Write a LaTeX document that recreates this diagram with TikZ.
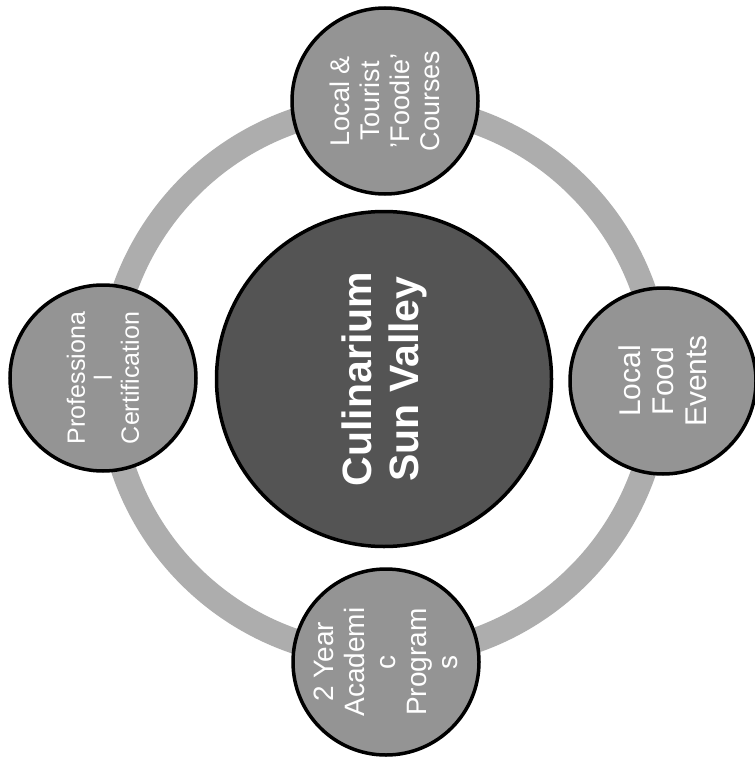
\documentclass[tikz,border=0pt]{standalone}
\usepackage{fontspec}
\setmainfont{Liberation Sans}
\definecolor{ringgray}{gray}{0.68}
\definecolor{satgray}{gray}{0.58}
\definecolor{hubgray}{gray}{0.33}
\begin{document}
\begin{tikzpicture}[x=1pt,y=-1pt,
  sat/.style={circle, draw=black, line width=3.5pt, fill=satgray, inner sep=0pt,
    minimum size=186pt, text=white, align=center, rotate=90},
  hub/.style={circle, draw=black, line width=3.5pt, fill=hubgray, inner sep=0pt,
    minimum size=335pt, text=white, align=center, rotate=90,
    font=\bfseries\fontsize{41}{47}\selectfont},
  ringline/.style={draw=ringgray, line width=25pt}]
\useasboundingbox (0,0) rectangle (754,762);
\fill[white] (0,0) rectangle (754,762);
\coordinate (ringc) at (384,381);
\draw[ringline] (ringc) circle[radius=275pt];
\node[hub] (hubnode) at (384,379) {Culinarium\\Sun Valley};
\node[sat, font=\fontsize{27}{30}\selectfont] (top) at (385,101) {Local \&\\Tourist\\'Foodie'\\Courses};
\node[sat, font=\fontsize{25}{27}\selectfont] (left) at (103,378) {Professiona\\l\\Certification};
\node[sat, font=\fontsize{30}{33}\selectfont] (right) at (663,381) {Local\\Food\\Events};
\node[sat, font=\fontsize{28}{31}\selectfont] (bottom) at (386,662) {2 Year\\Academi\\c\\Program\\s};
\end{tikzpicture}
\end{document}
